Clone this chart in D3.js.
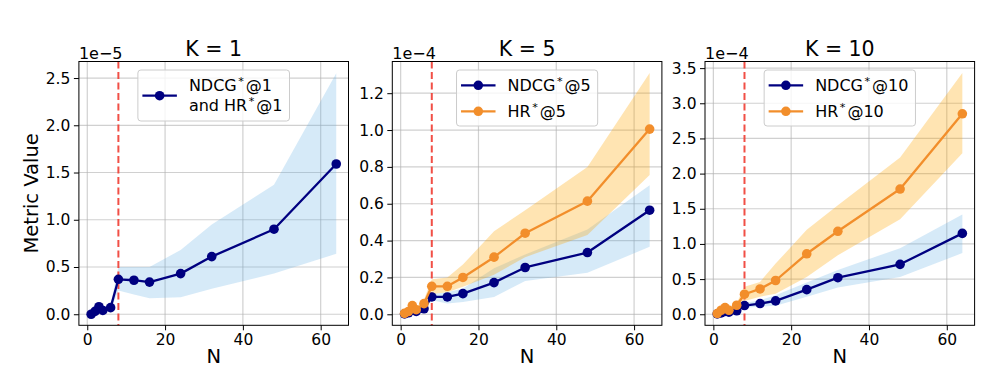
<!DOCTYPE html>
<html><head><meta charset="utf-8">
<script src="https://cdn.jsdelivr.net/npm/d3@7"></script>
<style>
html,body{margin:0;padding:0;background:#fff;}
svg{display:block;font-family:"DejaVu Sans",sans-serif;}
</style></head>
<body><svg id="chart" width="1002" height="390"></svg>
<script>
// ---------- data ----------
const N = [1, 2, 3, 4, 6, 8, 12, 16, 24, 32, 48, 64];
const xTicks = [0, 20, 40, 60];
const cutoffN = 8;

// K = 1 (x 1e-5) : NDCG*@1 and HR*@1 identical
const k1Mean  = [0.00, 0.03, 0.08, 0.04, 0.07, 0.37, 0.36, 0.34, 0.43, 0.61, 0.90, 1.59];
const k1Upper = [0.01, 0.05, 0.11, 0.07, 0.10, 0.50, 0.50, 0.50, 0.68, 0.95, 1.37, 2.55];
const k1Lower = [0.00, 0.01, 0.05, 0.02, 0.04, 0.25, 0.21, 0.17, 0.18, 0.27, 0.43, 0.64];
const k1Ticks = [0.0, 0.5, 1.0, 1.5, 2.0, 2.5];

// K = 5 (x 1e-4)
const ndcg5      = [0.002, 0.008, 0.022, 0.016, 0.030, 0.094, 0.094, 0.112, 0.172, 0.254, 0.335, 0.565];
const ndcg5Upper = [0.005, 0.015, 0.032, 0.025, 0.040, 0.110, 0.120, 0.140, 0.250, 0.325, 0.460, 0.700];
const ndcg5Lower = [0.000, 0.003, 0.012, 0.008, 0.020, 0.076, 0.058, 0.067, 0.094, 0.180, 0.226, 0.366];
const hr5        = [0.005, 0.015, 0.047, 0.025, 0.058, 0.152, 0.152, 0.200, 0.310, 0.440, 0.614, 1.005];
const hr5Upper   = [0.010, 0.030, 0.070, 0.040, 0.080, 0.190, 0.200, 0.270, 0.450, 0.565, 0.800, 1.310];
const hr5Lower   = [0.000, 0.005, 0.025, 0.010, 0.040, 0.110, 0.120, 0.150, 0.215, 0.310, 0.430, 0.756];
const k5Ticks = [0.0, 0.2, 0.4, 0.6, 0.8, 1.0, 1.2];

// K = 10 (x 1e-4)
const ndcg10      = [0.005, 0.020, 0.040, 0.030, 0.050, 0.124, 0.152, 0.190, 0.350, 0.520, 0.710, 1.150];
const ndcg10Upper = [0.010, 0.030, 0.055, 0.045, 0.070, 0.160, 0.200, 0.270, 0.450, 0.630, 0.940, 1.420];
const ndcg10Lower = [0.000, 0.010, 0.025, 0.020, 0.035, 0.090, 0.110, 0.120, 0.250, 0.380, 0.530, 0.870];
const hr10        = [0.010, 0.057, 0.095, 0.057, 0.128, 0.285, 0.360, 0.480, 0.860, 1.180, 1.780, 2.850];
const hr10Upper   = [0.020, 0.080, 0.130, 0.080, 0.160, 0.390, 0.460, 0.720, 1.200, 1.550, 2.230, 3.430];
const hr10Lower   = [0.000, 0.030, 0.060, 0.035, 0.100, 0.190, 0.250, 0.290, 0.530, 0.840, 1.350, 2.290];
const k10Ticks = [0.0, 0.5, 1.0, 1.5, 2.0, 2.5, 3.0, 3.5];

const titles = ["K = 1", "K = 5", "K = 10"];
const offsets = ["1e\u22125", "1e\u22124", "1e\u22124"];
const yLabel = "Metric Value";
const xLabel = "N";

// ---------- styling / layout ----------
const NAVY = "#000080", ORANGE = "#f28e2b";
const BLUE_FILL = "#5dade2", BLUE_OP = 0.25;
const ORANGE_FILL = "#ffa500", ORANGE_OP = 0.30;
const panelLeft = [78.9, 392.3, 705];
const pw = 269.6, plotTop = 61.5, plotBottom = 325.3;
const xDomain = [-2.15, 67.15];
const yDomains = [[-0.117, 2.675], [-0.0598, 1.372], [-0.157, 3.594]];

const panels = [
  {series: [{mean: k1Mean, up: k1Upper, lo: k1Lower, color: NAVY, fill: BLUE_FILL, op: BLUE_OP,
             label: [["NDCG", "*", "@1"], ["and HR", "*", "@1"]]}], ticks: k1Ticks, fmt: d3.format(".1f")},
  {series: [{mean: ndcg5, up: ndcg5Upper, lo: ndcg5Lower, color: NAVY, fill: BLUE_FILL, op: BLUE_OP, label: [["NDCG", "*", "@5"]]},
            {mean: hr5, up: hr5Upper, lo: hr5Lower, color: ORANGE, fill: ORANGE_FILL, op: ORANGE_OP, label: [["HR", "*", "@5"]]}],
   ticks: k5Ticks, fmt: d3.format(".1f")},
  {series: [{mean: ndcg10, up: ndcg10Upper, lo: ndcg10Lower, color: NAVY, fill: BLUE_FILL, op: BLUE_OP, label: [["NDCG", "*", "@10"]]},
            {mean: hr10, up: hr10Upper, lo: hr10Lower, color: ORANGE, fill: ORANGE_FILL, op: ORANGE_OP, label: [["HR", "*", "@10"]]}],
   ticks: k10Ticks, fmt: d3.format(".1f")}
];

const svg = d3.select("#chart");
const TICK_FS = 15.5, TITLE_FS = 20.5, LABEL_FS = 19.5, LEG_FS = 16, OFFSET_FS = 16;

function addLabel(sel, parts, fs) {
  sel.append("tspan").text(parts[0]);
  sel.append("tspan").text(parts[1]).attr("font-size", fs * 0.7).attr("dy", -fs * 0.38).attr("dx", 1.5);
  sel.append("tspan").text(parts[2]).attr("dy", fs * 0.38).attr("dx", 2);
}

panels.forEach((p, i) => {
  const x = d3.scaleLinear().domain(xDomain).range([panelLeft[i], panelLeft[i] + pw]);
  const y = d3.scaleLinear().domain(yDomains[i]).range([plotBottom, plotTop]);
  const g = svg.append("g");

  // grid
  g.append("g").selectAll("line").data(xTicks).join("line")
    .attr("x1", d => x(d)).attr("x2", d => x(d)).attr("y1", plotTop).attr("y2", plotBottom)
    .attr("stroke", "#b0b0b0").attr("stroke-opacity", 0.6).attr("stroke-width", 1.2);
  g.append("g").selectAll("line").data(p.ticks).join("line")
    .attr("y1", d => y(d)).attr("y2", d => y(d)).attr("x1", panelLeft[i]).attr("x2", panelLeft[i] + pw)
    .attr("stroke", "#b0b0b0").attr("stroke-opacity", 0.6).attr("stroke-width", 1.2);

  // bands
  p.series.forEach(s => {
    const area = d3.area().x((d, j) => x(N[j])).y0((d, j) => y(s.lo[j])).y1((d, j) => y(s.up[j]));
    g.append("path").attr("d", area(s.mean)).attr("fill", s.fill).attr("fill-opacity", s.op);
  });

  // cutoff line
  g.append("line").attr("x1", x(cutoffN)).attr("x2", x(cutoffN)).attr("y1", plotTop).attr("y2", plotBottom)
    .attr("stroke", "#f03c32").attr("stroke-opacity", 0.9).attr("stroke-width", 2).attr("stroke-dasharray", "7,3.5");

  // lines + markers
  p.series.forEach(s => {
    const line = d3.line().x((d, j) => x(N[j])).y(d => y(d));
    g.append("path").attr("d", line(s.mean)).attr("fill", "none").attr("stroke", s.color).attr("stroke-width", 2.3)
      .attr("stroke-linejoin", "round");
    g.append("g").selectAll("circle").data(s.mean).join("circle")
      .attr("cx", (d, j) => x(N[j])).attr("cy", d => y(d)).attr("r", 4.8).attr("fill", s.color);
  });

  // axes
  const xa = g.append("g").attr("transform", `translate(0,${plotBottom})`)
    .call(d3.axisBottom(x).tickValues(xTicks).tickSize(5).tickPadding(3.5).tickFormat(d3.format("d")));
  const ya = g.append("g").attr("transform", `translate(${panelLeft[i]},0)`)
    .call(d3.axisLeft(y).tickValues(p.ticks).tickSize(5).tickPadding(3.5).tickFormat(p.fmt));
  [xa, ya].forEach(a => {
    a.select(".domain").remove();
    a.selectAll("text").attr("font-size", TICK_FS).attr("fill", "#000").attr("font-family", "DejaVu Sans");
    a.selectAll("line").attr("stroke", "#000").attr("stroke-width", 1);
  });
  // spines
  g.append("rect").attr("x", panelLeft[i]).attr("y", plotTop).attr("width", pw).attr("height", plotBottom - plotTop)
    .attr("fill", "none").attr("stroke", "#000").attr("stroke-width", 1);

  // title, offset, x label
  g.append("text").attr("x", panelLeft[i] + pw / 2).attr("y", 56).attr("text-anchor", "middle")
    .attr("font-size", TITLE_FS).text(titles[i]);
  g.append("text").attr("x", panelLeft[i]).attr("y", 58.5).attr("font-size", OFFSET_FS).text(offsets[i]);
  g.append("text").attr("x", panelLeft[i] + pw / 2).attr("y", 363).attr("text-anchor", "middle")
    .attr("font-size", LABEL_FS).text(xLabel);

  // legend
  const lg = g.append("g");
  const rows = [];
  p.series.forEach(s => s.label.forEach((parts) => rows.push({s, parts})));
  const box = lg.append("rect");
  const textX0 = 51;
  let maxW = 0;
  const rowH = p.series.length === 1 ? 20 : 26;
  const by = 70;
  const texts = rows.map((r, ri) => {
    const t = lg.append("text").attr("font-size", LEG_FS).attr("y", by + 21.3 + ri * rowH);
    addLabel(t, r.parts, LEG_FS);
    maxW = Math.max(maxW, t.node().getComputedTextLength() + 3.5);
    return t;
  });
  const bw = textX0 + maxW + 7;
  const bx = panelLeft[i] + pw / 2 - bw / 2;
  const bh = p.series.length === 1 ? 51 : 56;
  box.attr("x", bx).attr("y", by).attr("width", bw).attr("height", bh).attr("rx", 3)
    .attr("fill", "#fff").attr("fill-opacity", 0.8).attr("stroke", "#cccccc").attr("stroke-width", 1);
  texts.forEach(t => t.attr("x", bx + textX0));
  p.series.forEach((s, si) => {
    const cy = by + (p.series.length === 1 ? 25.7 : 15.3 + si * rowH);
    lg.append("line").attr("x1", bx + 4.5).attr("x2", bx + 39).attr("y1", cy).attr("y2", cy)
      .attr("stroke", s.color).attr("stroke-width", 2.3);
    lg.append("circle").attr("cx", bx + 21.75).attr("cy", cy).attr("r", 4.8).attr("fill", s.color);
  });
});

// shared y label
svg.append("text").attr("transform", "translate(38,193.4) rotate(-90)").attr("text-anchor", "middle")
  .attr("font-size", LABEL_FS).text(yLabel);
</script></body></html>
